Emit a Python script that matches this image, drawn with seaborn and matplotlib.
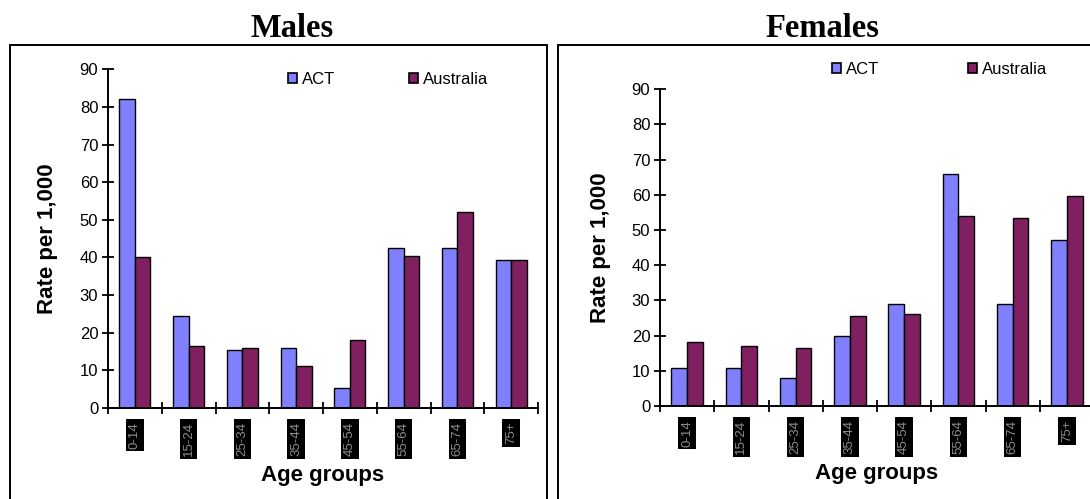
import numpy as np
import pandas as pd
import matplotlib
matplotlib.use('Agg')
import matplotlib.pyplot as plt
from matplotlib.patches import Rectangle, Patch
import seaborn as sns

# Data (rate per 1,000)
age_groups = ['0-14', '15-24', '25-34', '35-44', '45-54', '55-64', '65-74', '75+']
males_act = [82.0, 24.5, 15.4, 16.0, 5.3, 42.6, 42.6, 39.4]
males_aus = [40.0, 16.5, 16.0, 11.2, 18.1, 40.4, 52.1, 39.4]
females_act = [10.9, 10.9, 8.0, 20.0, 29.1, 66.0, 29.1, 47.3]
females_aus = [18.3, 17.1, 16.6, 25.7, 26.2, 54.1, 53.5, 59.8]
regions = ['ACT', 'Australia']
colors = ['#8080FF', '#802060']

plt.rcParams['font.family'] = ['Liberation Sans', 'DejaVu Sans']

W, H = 1090, 499
fig = plt.figure(figsize=(W / 100, H / 100), dpi=100)
fig.patch.set_facecolor('white')


def long_df(act, aus):
    return pd.DataFrame({
        'age': age_groups * 2,
        'rate': list(act) + list(aus),
        'region': ['ACT'] * len(act) + ['Australia'] * len(aus),
    })


def px(x0, y0, x1, y1):
    # pixel box -> figure fraction rect
    return [x0 / W, 1 - y1 / H, (x1 - x0) / W, (y1 - y0) / H]


panels = [
    dict(title='Males', act=males_act, aus=males_aus,
         rect=px(108, 69.3, 538, 408), title_x=292.5,
         ylab_x=-0.116, xlab_y=-0.168,
         leg_xy=(287.7, 79.5), colsp=4.4),
    dict(title='Females', act=females_act, aus=females_aus,
         rect=px(660, 89.3, 1094, 406), title_x=822,
         ylab_x=-0.113, xlab_y=-0.180,
         leg_xy=(831.7, 69.5), colsp=5.3),
]

for p in panels:
    ax = fig.add_axes(p['rect'])
    ax.set_facecolor('white')
    sns.barplot(data=long_df(p['act'], p['aus']), x='age', y='rate', hue='region',
                palette=colors, saturation=1, width=0.58, edgecolor='black',
                linewidth=1, ax=ax, legend=False)
    ax.set_xlim(-0.5, len(age_groups) - 0.5)
    ax.set_ylim(0, 90)
    ax.set_yticks(np.arange(0, 91, 10))

    for s in ['top', 'right']:
        ax.spines[s].set_visible(False)
    for s in ['left', 'bottom']:
        ax.spines[s].set_linewidth(1.4)
        ax.spines[s].set_color('black')

    ax.set_xticks(range(len(age_groups)))
    ax.set_xticklabels(age_groups, rotation=90, fontsize=9.5, color='#8c8c8c',
                       bbox=dict(facecolor='black', edgecolor='none', pad=2))
    ax.set_xticks(np.arange(-0.5, len(age_groups), 1), minor=True)
    ax.tick_params(axis='x', which='major', length=0, pad=10)
    ax.tick_params(axis='x', which='minor', direction='inout', length=8, width=1.3)
    ax.tick_params(axis='y', direction='inout', length=8, width=1.3,
                   labelsize=12, pad=3)

    ax.set_ylabel('Rate per 1,000', fontsize=16, fontweight='bold')
    ax.yaxis.set_label_coords(p['ylab_x'], 0.5)
    ax.set_xlabel('Age groups', fontsize=16, fontweight='bold', va='top')
    ax.xaxis.set_label_coords(0.5, p['xlab_y'])

    handles = [Patch(facecolor=c, edgecolor='black', linewidth=1.2) for c in colors]
    lx, ly = p['leg_xy']
    ax.legend(handles, regions, ncol=2, frameon=False, fontsize=12,
              handlelength=0.55, handleheight=0.55, handletextpad=0.32,
              columnspacing=p['colsp'], borderpad=0, borderaxespad=0,
              loc='center left', bbox_to_anchor=(lx / W, 1 - ly / H),
              bbox_transform=fig.transFigure)

    fig.text(p['title_x'] / W, 1 - 36.7 / H, p['title'], ha='center', va='baseline',
             fontsize=23.5, fontweight='bold', family=['Liberation Serif', 'DejaVu Serif'])

# Panel frames
fig.add_artist(Rectangle((10 / W, -0.05), 537 / W, 1 - 45 / H + 0.05,
                         transform=fig.transFigure, fill=False, lw=1.4, color='black'))
fig.add_artist(Rectangle((558 / W, -0.05), 0.6, 1 - 45 / H + 0.05,
                         transform=fig.transFigure, fill=False, lw=1.4, color='black'))

fig.savefig('out.png', dpi=100)
plt.close(fig)
